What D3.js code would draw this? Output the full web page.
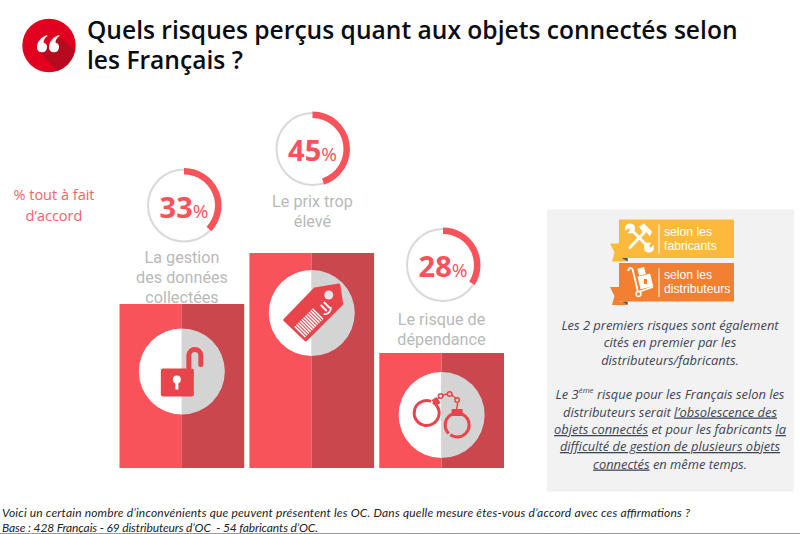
<!DOCTYPE html>
<html>
<head>
<meta charset="utf-8">
<script src="https://cdn.jsdelivr.net/npm/d3@7"></script>
<style>
  html, body { margin: 0; padding: 0; background: #fff; }
  svg { display: block; }
</style>
</head>
<body>
<svg id="chart"></svg>
<script>
// DATA
let risks = ['gestion', 'prix', 'dependance'];
let percents = [33, 45, 28];
let ringShares = [37, 45, 34];     // how far each ring is actually filled in the picture
let barLevels = [164, 215, 115];   // bars are not proportional to the % in the original
let riskLabels = [
    ['La gestion', 'des données', 'collectées'],
    ['Le prix trop', 'élevé'],
    ['Le risque de', 'dépendance']
];
let titleLines = ['Quels risques perçus quant aux objets connectés selon', 'les Français ?'];
let noteLines = ['% tout à fait', 'd’accord'];
let footLines = [
    'Voici un certain nombre d’inconvénients que peuvent présentent les OC. Dans quelle mesure êtes-vous d’accord avec ces affirmations ?',
    'Base : 428 Français - 69 distributeurs d’OC  - 54 fabricants d’OC.'
];

let width = 800, height = 534;
let red = '#f8525a', darkRed = '#c9474d', grey = '#d4d4d4', iconRed = '#e8444c';

let svg = d3.select('#chart').attr('width', width).attr('height', height);

let x = d3.scaleBand().domain(risks).range([119.5, 504]).paddingInner(0.04);
let y = d3.scaleLinear().domain([0, 215]).range([468, 253]);
let ringAngle = d3.scaleLinear().domain([0, 100]).range([0, 2 * Math.PI]);

// HEADER
svg.append('circle').attr('cx', 49).attr('cy', 45.5).attr('r', 26.7).attr('fill', '#e2001f');
svg.append('path').attr('fill', '#b80a1e')
    .attr('d', 'M40 52 L61 37 L74.5 51 A26.7 26.7 0 0 1 57 71 Z');
svg.append('g').attr('fill', '#fff').selectAll('path').data([37.5, 49.5]).enter().append('path')
    .attr('transform', d => 'translate(' + d + ',0)')
    .attr('d', 'M9.5 35 C3.5 37 -0.5 42 -0.5 47 A5 5 0 1 0 6 42.5 C6 40 7.5 37.5 10 36 Z');

svg.selectAll('.title').data(titleLines).enter().append('text')
    .attr('class', 'title')
    .attr('x', 87).attr('y', (d, i) => 39 + i * 30)
    .attr('font-family', 'Open Sans').attr('font-weight', 600).attr('font-size', 24.6)
    .attr('fill', '#0b0b12')
    .text(d => d);

svg.selectAll('.note').data(noteLines).enter().append('text')
    .attr('class', 'note')
    .attr('x', 54).attr('y', (d, i) => 200 + i * 20.5)
    .attr('text-anchor', 'middle')
    .attr('font-family', 'Open Sans').attr('font-size', 14.5)
    .attr('fill', '#f8626a')
    .text(d => d);

// BARS
let bars = svg.selectAll('.bar').data(risks).enter().append('g').attr('class', 'bar');

bars.append('rect')
    .attr('x', d => x(d)).attr('width', x.bandwidth() / 2)
    .attr('y', (d, i) => y(barLevels[i]))
    .attr('height', (d, i) => y(0) - y(barLevels[i]))
    .attr('fill', red);
bars.append('rect')
    .attr('x', d => x(d) + x.bandwidth() / 2).attr('width', x.bandwidth() / 2)
    .attr('y', (d, i) => y(barLevels[i]))
    .attr('height', (d, i) => y(0) - y(barLevels[i]))
    .attr('fill', darkRed);

// white / grey disc holding the icon
let discDrop = [67.5, 60, 62];
let discs = bars.append('g')
    .attr('transform', (d, i) => 'translate(' + (x(d) + x.bandwidth() / 2) + ',' + (y(barLevels[i]) + discDrop[i]) + ')');
let halfDisc = d3.arc().innerRadius(0).outerRadius(43);
discs.append('path').attr('fill', '#fff').attr('d', halfDisc({ startAngle: Math.PI, endAngle: 2 * Math.PI }));
discs.append('path').attr('fill', grey).attr('d', halfDisc({ startAngle: 0, endAngle: Math.PI }));

// padlock
let lock = d3.select(discs.nodes()[0]);
lock.append('rect').attr('x', -21).attr('y', -3).attr('width', 33).attr('height', 28).attr('rx', 2).attr('fill', iconRed);
lock.append('path').attr('fill', 'none').attr('stroke', iconRed).attr('stroke-width', 5).attr('stroke-linecap', 'round')
    .attr('d', 'M7 -4 V-16 A6 6 0 0 1 19 -16 V-7');
lock.append('circle').attr('cx', -5).attr('cy', 8).attr('r', 4).attr('fill', '#fff');
lock.append('rect').attr('x', -6.5).attr('y', 8).attr('width', 3).attr('height', 10).attr('fill', '#fff');

// price tag
let tag = d3.select(discs.nodes()[1]);
tag.append('path').attr('fill', iconRed).attr('stroke', iconRed).attr('stroke-width', 3).attr('stroke-linejoin', 'round')
    .attr('d', 'M3 -24 L27 -28 L30 -9 L-6 27 L-27 7 Z');
tag.append('circle').attr('cx', 17).attr('cy', -18).attr('r', 4.5).attr('fill', '#e6e6e6');
tag.append('g').attr('transform', 'translate(-3,10) rotate(-45)').attr('fill', '#fff')
    .selectAll('rect').data([-13, -10.5, -8, -5.5, -3, -0.5, 2, 4.5, 7, 9.5, 12]).enter().append('rect')
    .attr('x', d => d).attr('y', -7.5).attr('width', 1.5).attr('height', 15);
tag.append('path').attr('fill', 'none').attr('stroke', '#fff').attr('stroke-width', 1.8)
    .attr('d', 'M19 -6 A6 6 0 0 1 12 1 M9 -8 L15 -2 M12 -11 L18 -5');

// handcuffs
let cuffs = d3.select(discs.nodes()[2]);
let cuffLine = cuffs.append('g').attr('fill', 'none').attr('stroke', iconRed);
cuffLine.append('circle').attr('cx', -15).attr('cy', -2).attr('r', 12.5).attr('stroke-width', 3).attr('stroke-dasharray', '50 2 27').attr('transform', 'rotate(60 -15 -2)');
cuffLine.append('circle').attr('cx', 15.5).attr('cy', 10).attr('r', 12).attr('stroke-width', 3).attr('stroke-dasharray', '26 2 50');
cuffLine.append('path').attr('stroke-width', 1.5).attr('d', 'M-6 -14 L-2 -18 M1 -20 L6 -21 M10 -20 L14 -17 M16 -12 L15 -6');
cuffLine.selectAll('.link').data([[-1, -19], [8, -21], [15.5, -15]]).enter().append('circle')
    .attr('class', 'link').attr('cx', d => d[0]).attr('cy', d => d[1]).attr('r', 2.3).attr('stroke-width', 1.5);
cuffs.append('path').attr('fill', iconRed).attr('d', 'M-10 -15 L-5 -18 L-1 -12 L-6 -9 Z M10 -6 H21 V1 H10 Z');

// RINGS
let ringPos = [[184, 205.5], [312.5, 149], [443, 265]];
let rings = svg.selectAll('.ring').data(risks).enter().append('g')
    .attr('class', 'ring')
    .attr('transform', (d, i) => 'translate(' + ringPos[i] + ')');

rings.append('circle').attr('r', 36).attr('fill', 'none').attr('stroke', '#d9d9d9').attr('stroke-width', 2);
rings.append('path').attr('fill', red)
    .attr('d', (d, i) => d3.arc().innerRadius(31).outerRadius(37.5)({ startAngle: 0, endAngle: ringAngle(ringShares[i]) }));

let pct = rings.append('text').attr('text-anchor', 'middle').attr('y', 12)
    .attr('font-family', 'Open Sans').attr('fill', red);
pct.append('tspan').attr('font-weight', 700).attr('font-size', 29).text((d, i) => percents[i]);
pct.append('tspan').attr('font-size', 19).text('%');

// labels above the bars
let labelPos = [[182, 263], [312.5, 207], [441.5, 325]];
risks.forEach((r, i) => {
    svg.selectAll('.lab' + i).data(riskLabels[i]).enter().append('text')
        .attr('class', 'lab' + i)
        .attr('x', labelPos[i][0]).attr('y', (d, j) => labelPos[i][1] + j * 20)
        .attr('text-anchor', 'middle')
        .attr('font-family', 'Roboto').attr('font-size', 16.2)
        .attr('fill', '#b9b9b9')
        .text(d => d);
});

// SIDE PANEL
svg.append('rect').attr('x', 547).attr('y', 209.5).attr('width', 247).attr('height', 282).attr('fill', '#f2f2f2');

let badgeNames = [['selon les', 'fabricants'], ['selon les', 'distributeurs']];
let badgeColors = ['#fdb93c', '#f37f30'];
let badges = svg.selectAll('.badge').data(badgeNames).enter().append('g')
    .attr('class', 'badge')
    .attr('transform', (d, i) => 'translate(619,' + (219.5 + i * 43.5) + ')');
badges.append('path').attr('fill', (d, i) => badgeColors[i]).attr('d', 'M0 24 H-9 L-4.5 33 L-7 42 H8.7 L2.5 38.5 H0 Z');
badges.append('path').attr('fill', '#555').attr('d', 'M2.5 38.5 H8.7 V42 Z');
badges.append('rect').attr('width', 115).attr('height', 38.5).attr('fill', (d, i) => badgeColors[i]);
badges.append('rect').attr('x', 39.5).attr('y', 5).attr('width', 1).attr('height', 29).attr('fill', '#fff');
badges.selectAll('.bt').data(d => d).enter().append('text')
    .attr('class', 'bt')
    .attr('x', 45).attr('y', (d, i) => 16 + i * 14)
    .attr('font-family', 'Liberation Sans').attr('font-size', 12.2)
    .attr('fill', '#fff')
    .text(d => d);

// tools icon
let tools = d3.select(badges.nodes()[0]);
tools.append('path').attr('fill', 'none').attr('stroke', '#fff').attr('stroke-width', 3).attr('stroke-linecap', 'round')
    .attr('d', 'M12 10 L29 27 M11 28 L27 11');
tools.append('path').attr('fill', '#fff').attr('d', 'M20 7 L25 4 L33 12 L31 17 L27 12 L24 13 Z');
tools.selectAll('.jaw').data([[11, 9, 225], [30, 28, 45]]).enter().append('path')
    .attr('class', 'jaw').attr('fill', '#fff')
    .attr('transform', d => 'translate(' + d[0] + ',' + d[1] + ') rotate(' + d[2] + ')')
    .attr('d', 'M-4 -3 A5 5 0 1 0 4 -3 L1.5 -5 V-1 H-1.5 V-5 Z');

// trolley icon
let cart = d3.select(badges.nodes()[1]);
cart.append('path').attr('fill', 'none').attr('stroke', '#fff').attr('stroke-width', 1.8)
    .attr('d', 'M9 8 C10 4 13 4 14 8 L19 29 L34 24');
cart.append('rect').attr('x', 20).attr('y', 12).attr('width', 13).attr('height', 13).attr('fill', '#fff').attr('transform', 'rotate(-14 26 19)');
cart.append('rect').attr('x', 19).attr('y', 5).attr('width', 7).attr('height', 7).attr('fill', '#fff').attr('transform', 'rotate(-14 22 8)');
cart.append('rect').attr('x', 25).attr('y', 16).attr('width', 3).attr('height', 5).attr('fill', badgeColors[1]);
cart.append('circle').attr('cx', 19.5).attr('cy', 31).attr('r', 2.4).attr('fill', badgeColors[1]).attr('stroke', '#fff').attr('stroke-width', 1.5);

// panel text, runs flagged u are underlined
let panelLines = [
    { y: 330, runs: [['Les 2 premiers risques sont également']] },
    { y: 347, runs: [['cités en premier par les']] },
    { y: 364.5, runs: [['distributeurs/fabricants.']] },
    { y: 399, runs: [['Le 3'], ['ème', 'sup'], [' risque pour les Français selon les']] },
    { y: 416.5, runs: [['distributeurs serait '], ['l’obsolescence des', 'u']] },
    { y: 434, runs: [['objets connectés', 'u'], [' et pour les fabricants '], ['la', 'u']] },
    { y: 451, runs: [['difficulté de gestion de plusieurs objets', 'u']] },
    { y: 468.5, runs: [['connectés', 'u'], [' en même temps.']] }
];
let panelText = svg.selectAll('.pl').data(panelLines).enter().append('text')
    .attr('class', 'pl')
    .attr('x', 670).attr('y', d => d.y)
    .attr('text-anchor', 'middle')
    .attr('font-family', 'Open Sans').attr('font-style', 'italic').attr('font-size', 12.9)
    .attr('fill', '#3d4555')
    .style('white-space', 'pre');
panelText.selectAll('tspan').data(d => d.runs).enter().append('tspan')
    .attr('text-decoration', d => d[1] === 'u' ? 'underline' : null)
    .attr('font-size', d => d[1] === 'sup' ? 8 : null)
    .attr('dy', (d, i, n) => {
        if (d[1] === 'sup') return -6;
        return i > 0 && n[i - 1].__data__[1] === 'sup' ? 6 : null;
    })
    .text(d => d[0]);

// FOOTER
let footLengths = [688, 316];
svg.selectAll('.foot').data(footLines).enter().append('text')
    .attr('class', 'foot')
    .attr('x', 2).attr('y', (d, i) => 517 + i * 15)
    .attr('font-family', 'Lato').attr('font-style', 'italic').attr('font-size', 12)
    .attr('textLength', (d, i) => footLengths[i]).attr('lengthAdjust', 'spacing')
    .style('white-space', 'pre')
    .attr('fill', '#222')
    .text(d => d);
svg.append('rect').attr('x', 0).attr('y', 533).attr('width', 800).attr('height', 1).attr('fill', '#999');
</script>
</body>
</html>
